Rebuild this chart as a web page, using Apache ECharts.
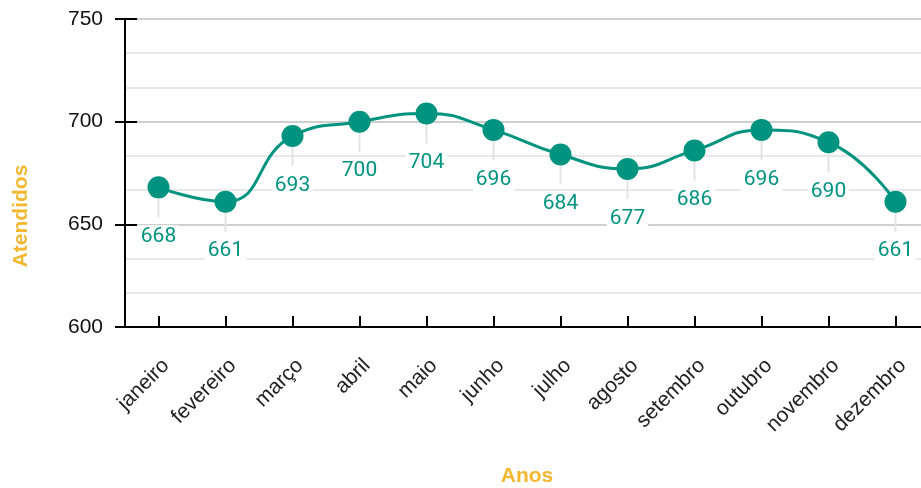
<!DOCTYPE html>
<html>
<head>
<meta charset="utf-8">
<script src="https://cdn.jsdelivr.net/npm/echarts@6/dist/echarts.min.js"></script>
<style>
  html, body { margin: 0; padding: 0; background: #fff; }
  #chart { width: 921px; height: 488px; }
</style>
</head>
<body>
<div id="chart"></div>
<script>
'use strict';

/*
 * Atendidos por mês
 */
const months = ['janeiro', 'fevereiro', 'março', 'abril', 'maio', 'junho',
    'julho', 'agosto', 'setembro', 'outubro', 'novembro', 'dezembro'];
const attended = [668, 661, 693, 700, 704, 696, 684, 677, 686, 696, 690, 661];
const yTicks = [600, 650, 700, 750];

const teal = '#00937f';
const orange = '#f5b730';
const axisFont = '"Liberation Sans", Arial, sans-serif';

const chart = echarts.init(document.getElementById('chart'));

// short grey guide under each point, pointing to its label
const renderGuide = (params, api) => {
    const p = api.coord([api.value(0), api.value(1)]);
    return {
        type: 'line',
        shape: { x1: p[0], y1: p[1], x2: p[0], y2: p[1] + 30 },
        style: { stroke: '#e2e2e2', lineWidth: 2 }
    };
};

// second x axis only draws the upper half of the crossing ticks
const tickAxis = {
    type: 'category',
    data: months,
    position: 'bottom',
    axisLine: { show: false },
    axisLabel: { show: false },
    axisTick: { show: true, inside: true, interval: 0, length: 11, alignWithLabel: true, lineStyle: { color: '#000', width: 2 } },
    splitLine: { show: false }
};

chart.setOption({
    animation: false,
    grid: { left: 125, top: 19, bottom: 161, width: 804, outerBoundsMode: 'none', containLabel: false },
    graphic: [{
        type: 'text',
        x: 21, y: 216,
        rotation: Math.PI / 2,
        style: {
            text: 'Atendidos',
            fill: orange,
            font: 'bold 21px ' + axisFont,
            textAlign: 'center',
            textVerticalAlign: 'middle'
        }
    }],
    xAxis: [{
        type: 'category',
        data: months,
        name: 'Anos',
        nameLocation: 'middle',
        nameGap: 139,
        nameTextStyle: { color: orange, fontSize: 21, fontWeight: 'bold', fontFamily: axisFont },
        axisLine: { lineStyle: { color: '#000', width: 2 } },
        axisTick: { length: 11, interval: 0, alignWithLabel: true, lineStyle: { color: '#000', width: 2 } },
        axisLabel: {
            interval: 0,
            rotate: 45,
            margin: 28,
            verticalAlign: 'top',
            color: '#222',
            fontSize: 21,
            fontFamily: axisFont
        }
    }, tickAxis],
    yAxis: [{
        type: 'value',
        min: yTicks[0],
        max: yTicks[yTicks.length - 1],
        interval: 50,
        axisLine: { show: true, lineStyle: { color: '#000', width: 2 } },
        axisTick: { show: true, length: 10, lineStyle: { color: '#000', width: 2 } },
        axisLabel: { margin: 22, color: '#111', fontSize: 21, fontFamily: axisFont },
        splitLine: { lineStyle: { color: '#cfcfcf', width: 2 } },
        minorTick: { show: false, splitNumber: 3 },
        minorSplitLine: { show: true, lineStyle: { color: '#e8e8e8', width: 2 } }
    }, {
        type: 'value',
        min: yTicks[0],
        max: yTicks[yTicks.length - 1],
        interval: 50,
        position: 'left',
        axisLine: { show: false },
        axisLabel: { show: false },
        axisTick: { show: true, inside: true, length: 12, lineStyle: { color: '#000', width: 2 } },
        splitLine: { show: false }
    }],
    series: [{
        type: 'custom',
        renderItem: renderGuide,
        data: attended.map((v, i) => [i, v]),
        z: 1,
        silent: true
    }, {
        type: 'line',
        data: attended,
        smooth: true,
        z: 3,
        symbol: 'circle',
        symbolSize: 22,
        lineStyle: { color: teal, width: 3 },
        itemStyle: { color: teal },
        label: {
            show: true,
            position: 'bottom',
            distance: 27,
            color: teal,
            fontSize: 21,
            fontFamily: 'Roboto, sans-serif',
            backgroundColor: '#fff',
            padding: [1, 3]
        }
    }]
});
</script>
</body>
</html>
